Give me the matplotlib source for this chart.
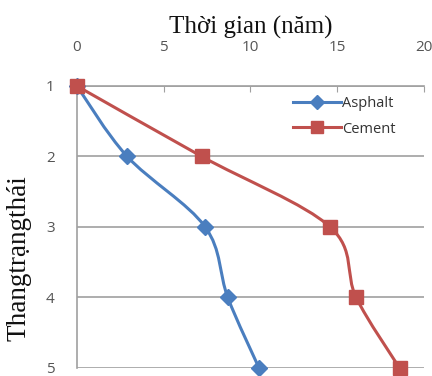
import numpy as np
import matplotlib.pyplot as plt
from matplotlib.path import Path
from matplotlib.patches import PathPatch

# thời gian (năm) cho từng thang trạng thái
states = [1, 2, 3, 4, 5]
asphalt_years = [0, 2.9, 7.4, 8.7, 10.5]
cement_years = [0, 7.2, 14.6, 16.1, 18.6]
x_ticks = [0, 5, 10, 15, 20]

BLUE = "#4A7EBF"
RED = "#C0504D"
GRID = "#A0A0A0"
TXT = "#555555"


def smooth_path(xs, ys):
    # catmull-rom -> cubic bezier, like a smoothed spreadsheet line
    pts = np.column_stack([xs, ys]).astype(float)
    n = len(pts)
    verts = [pts[0]]
    codes = [Path.MOVETO]
    for i in range(n - 1):
        p0 = pts[i - 1] if i > 0 else pts[i]
        p1 = pts[i]
        p2 = pts[i + 1]
        p3 = pts[i + 2] if i + 2 < n else pts[i + 1]
        c1 = p1 + (p2 - p0) / 6.0
        c2 = p2 - (p3 - p1) / 6.0
        verts += [c1, c2, p2]
        codes += [Path.CURVE4] * 3
    return Path(verts, codes)


fig = plt.figure(figsize=(4.32, 3.76), dpi=100)
ax = fig.add_axes([0.178, 0.0213, 0.803, 0.750])

for xs, color, marker, ms, name in [
    (asphalt_years, BLUE, "D", 8, "Asphalt"),
    (cement_years, RED, "s", 10.5, "Cement"),
]:
    ax.add_patch(PathPatch(smooth_path(xs, states), facecolor="none",
                           edgecolor=color, lw=2.2, zorder=3, clip_on=False))
    ax.plot(xs, states, ls="none", marker=marker, ms=ms, color=color,
            zorder=4, clip_on=False)
    # legend handle
    ax.plot([], [], color=color, lw=2.2, marker=marker, ms=ms * 0.85,
            label=name)

ax.set_xlim(0, 20)
ax.set_ylim(5, 1)
ax.set_xticks(x_ticks)
ax.set_yticks(states)
ax.xaxis.tick_top()
ax.xaxis.set_label_position("top")

for s in ["right", "bottom"]:
    ax.spines[s].set_visible(False)
for s in ["top", "left"]:
    ax.spines[s].set_color(GRID)
    ax.spines[s].set_linewidth(1.2)

ax.yaxis.grid(True, color=GRID, lw=1.2)
ax.set_axisbelow(True)
ax.tick_params(axis="x", direction="in", length=4, color=GRID, pad=22,
               labelsize=11, labelcolor=TXT)
ax.tick_params(axis="y", length=0, pad=16, labelsize=11, labelcolor=TXT)
for lbl in ax.get_xticklabels() + ax.get_yticklabels():
    lbl.set_fontfamily("Open Sans")

ax.set_xlabel("Thời gian (năm)", fontfamily="Liberation Serif", fontsize=18,
              labelpad=5, color="#111111")
fig.text(19 / 432, 1 - 258 / 376, "Thangtrạngthái", rotation=90,
         ha="center", va="center", fontfamily="Liberation Serif",
         fontsize=19.5, color="#111111")

leg = ax.legend(loc="upper left", bbox_to_anchor=(0.585, 1.01), frameon=False,
                prop={"family": "Open Sans", "size": 10.5}, handlelength=3.3,
                handletextpad=0.05, labelspacing=0.7)
for t in leg.get_texts():
    t.set_color("#333333")

fig.savefig("out.png", dpi=100)
